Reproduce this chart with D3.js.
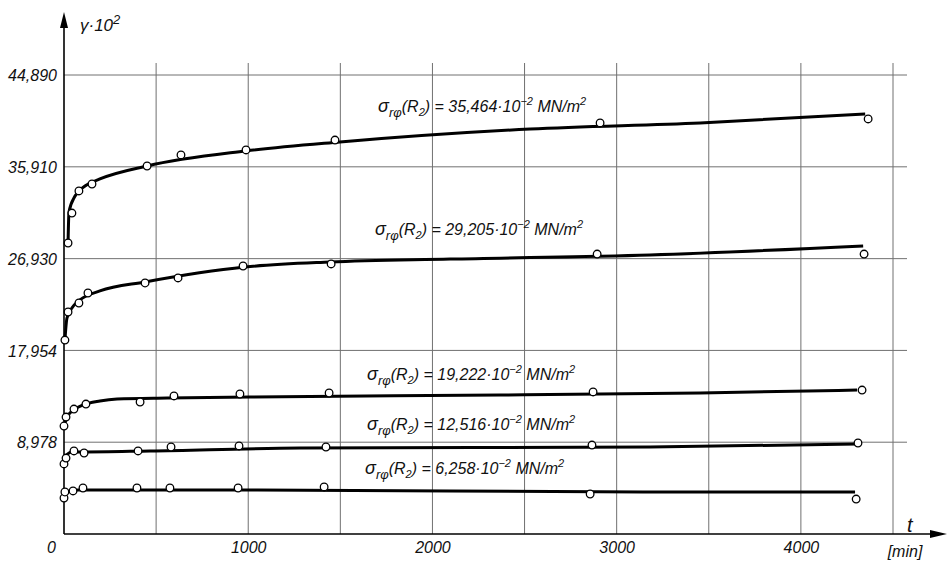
<!DOCTYPE html>
<html lang="de">
<head>
  <meta charset="UTF-8">
  <title>Kriechkurven</title>
  <script src="https://d3js.org/d3.v7.min.js"></script>
  <style>
    body {
      background: #fff;
      margin: 0;
    }
    text {
      font-family: 'Liberation Sans', Arial, sans-serif;
      font-style: italic;
      fill: #111;
    }
    .grid line {
      stroke: #707070;
      stroke-width: 1;
    }
    .fit {
      fill: none;
      stroke: #000;
      stroke-width: 3;
    }
    .pt {
      fill: #fff;
      stroke: #000;
      stroke-width: 1.3;
    }
  </style>
</head>
<body>
  <script>
    // tick values and labels
    var tTicks = [0, 1000, 2000, 3000, 4000];
    var tGrid = [500, 1000, 1500, 2000, 2500, 3000, 3500, 4000, 4500];
    var gTicks = [8.978, 17.954, 26.930, 35.910, 44.890];
    var gTickLabels = ["8,978", "17,954", "26,930", "35,910", "44,890"];

    // stress of each curve (10^-2 MN/m^2)
    var stress = ["35,464", "29,205", "19,222", "12,516", "6,258"];

    // measured points, t [min] and gamma*10^2
    var measT1 = [22, 43, 81, 152, 451, 635, 988, 1471, 2910, 4365];
    var measG1 = [28.46, 31.39, 33.55, 34.23, 35.99, 37.07, 37.56, 38.53, 40.20, 40.59];
    var measT2 = [5, 22, 81, 130, 440, 619, 972, 1450, 2894, 4343];
    var measG2 = [18.97, 21.71, 22.59, 23.57, 24.55, 25.04, 26.21, 26.41, 27.38, 27.38];
    var measT3 = [0, 11, 54, 119, 413, 597, 955, 1439, 2872, 4332];
    var measG3 = [10.56, 11.44, 12.22, 12.71, 12.91, 13.50, 13.69, 13.79, 13.89, 14.08];
    var measT4 = [0, 11, 54, 109, 402, 581, 950, 1422, 2866, 4310];
    var measG4 = [6.85, 7.43, 8.12, 7.92, 8.12, 8.51, 8.61, 8.51, 8.70, 8.90];
    var measT5 = [0, 5, 49, 103, 396, 575, 945, 1412, 2856, 4300];
    var measG5 = [3.52, 4.11, 4.21, 4.50, 4.50, 4.50, 4.50, 4.60, 3.91, 3.42];

    // drawn (smoothed) curves
    var fitT1 = [22, 27, 60, 114, 195, 451, 988, 1498, 2530, 3453, 4349];
    var fitG1 = [28.46, 31.49, 33.06, 34.03, 34.72, 35.99, 37.46, 38.34, 39.61, 40.20, 41.08];
    var fitT2 = [5, 16, 43, 87, 195, 440, 983, 1444, 2096, 3181, 4338];
    var fitG2 = [18.97, 21.12, 22.10, 22.89, 23.77, 24.65, 26.11, 26.60, 26.89, 27.29, 28.17];
    var fitT3 = [0, 16, 60, 103, 195, 288, 559, 1010, 2367, 3453, 4305];
    var fitG3 = [10.46, 11.44, 12.22, 12.62, 13.01, 13.20, 13.30, 13.40, 13.59, 13.79, 14.08];
    var fitT4 = [0, 11, 43, 98, 467, 1281, 3181, 4305];
    var fitG4 = [6.94, 7.63, 8.02, 8.02, 8.12, 8.41, 8.51, 8.80];
    var fitT5 = [0, 11, 76, 1010, 3181, 4294];
    var fitG5 = [3.62, 4.11, 4.30, 4.30, 4.11, 4.11];

    // where the stress labels sit (data coords: left edge, baseline)
    var labelT = [1705, 1688, 1645, 1645, 1634];
    var labelG = [41.27, 29.24, 15.06, 10.17, 5.87];

    var width = 948, height = 562;

    var x = d3.scaleLinear().domain([0, 4500]).range([64, 893]);
    var y = d3.scaleLinear().domain([0, 44.89]).range([534, 75]);

    var svg = d3.select("body").append("svg")
      .attr("width", width)
      .attr("height", height);

    // grid
    var grid = svg.append("g").classed("grid", true);

    grid.selectAll(".vl")
      .data(tGrid)
      .enter()
      .append("line")
      .attr("x1", function(d) { return x(d); })
      .attr("x2", function(d) { return x(d); })
      .attr("y1", y(44.89) - 12)
      .attr("y2", y(0));

    grid.selectAll(".hl")
      .data(gTicks)
      .enter()
      .append("line")
      .attr("x1", x(0))
      .attr("x2", x(4500) + 14)
      .attr("y1", function(d) { return y(d); })
      .attr("y2", function(d) { return y(d); });

    // axes with arrows
    svg.append("line")
      .attr("x1", x(0)).attr("x2", x(0))
      .attr("y1", y(0)).attr("y2", 20)
      .attr("stroke", "#000").attr("stroke-width", 1.6);
    svg.append("path")
      .attr("d", "M" + (x(0) - 4) + ",28 L" + x(0) + ",12 L" + (x(0) + 4) + ",28 Z")
      .attr("fill", "#000");

    svg.append("line")
      .attr("x1", x(0)).attr("x2", 935)
      .attr("y1", y(0)).attr("y2", y(0))
      .attr("stroke", "#000").attr("stroke-width", 1.6);
    svg.append("path")
      .attr("d", "M930," + (y(0) - 4) + " L947," + y(0) + " L930," + (y(0) + 4) + " Z")
      .attr("fill", "#000");

    var yAxis = svg.append("g")
      .attr("transform", "translate(" + (x(0) - 7) + ",0)")
      .call(d3.axisLeft(y)
        .tickValues(gTicks)
        .tickSize(0)
        .tickPadding(0)
        .tickFormat(function(d, i) { return gTickLabels[i]; }));
    yAxis.select(".domain").remove();
    yAxis.selectAll("text")
      .attr("font-size", 16)
      .attr("font-family", null)
      .attr("fill", "#111")
      .attr("dy", "0.35em");

    var xAxis = svg.append("g")
      .attr("transform", "translate(0," + y(0) + ")")
      .call(d3.axisBottom(x)
        .tickValues(tTicks)
        .tickSize(0)
        .tickPadding(8)
        .tickFormat(d3.format("d")));
    xAxis.select(".domain").remove();
    xAxis.selectAll("text")
      .attr("font-size", 16)
      .attr("font-family", null)
      .attr("fill", "#111")
      .attr("dx", function(d) { return d === 0 ? -13 : 0; });

    // axis titles
    var yt = svg.append("text")
      .attr("x", 80)
      .attr("y", 31)
      .attr("font-size", 17);
    yt.append("tspan").text("γ·10");
    yt.append("tspan").attr("dy", -7).attr("font-size", 13).text("2");

    svg.append("text")
      .attr("x", 907).attr("y", 532)
      .attr("font-size", 20)
      .text("t");
    svg.append("text")
      .attr("x", 905).attr("y", 557)
      .attr("font-size", 16)
      .attr("text-anchor", "middle")
      .text("[min]");

    // curves and points
    var fits = [[fitT1, fitG1], [fitT2, fitG2], [fitT3, fitG3], [fitT4, fitG4], [fitT5, fitG5]];
    var meas = [[measT1, measG1], [measT2, measG2], [measT3, measG3], [measT4, measG4], [measT5, measG5]];

    var line = d3.line()
      .x(function(d) { return x(d[0]); })
      .y(function(d) { return y(d[1]); })
      .curve(d3.curveMonotoneX);

    fits.forEach(function(f) {
      svg.append("path")
        .classed("fit", true)
        .attr("d", line(d3.zip(f[0], f[1])));
    });

    meas.forEach(function(m) {
      svg.append("g")
        .selectAll("circle")
        .data(d3.zip(m[0], m[1]))
        .enter()
        .append("circle")
        .classed("pt", true)
        .attr("r", 3.8)
        .attr("cx", function(d) { return x(d[0]); })
        .attr("cy", function(d) { return y(d[1]); });
    });

    // stress labels
    stress.forEach(function(s, i) {
      var t = svg.append("text")
        .attr("x", x(labelT[i]))
        .attr("y", y(labelG[i]))
        .attr("font-size", 16);
      t.append("tspan").attr("font-size", 18).text("σ");
      t.append("tspan").attr("dy", 5).attr("font-size", 13).text("rφ");
      t.append("tspan").attr("dy", -5).text("(R");
      t.append("tspan").attr("dy", 4).attr("font-size", 11).text("2");
      t.append("tspan").attr("dy", -4).text(") = " + s + "·10");
      t.append("tspan").attr("dy", -7).attr("font-size", 11).text("−2");
      t.append("tspan").attr("dy", 7).text(" MN/m");
      t.append("tspan").attr("dy", -7).attr("font-size", 11).text("2");
    });
  </script>
</body>
</html>
